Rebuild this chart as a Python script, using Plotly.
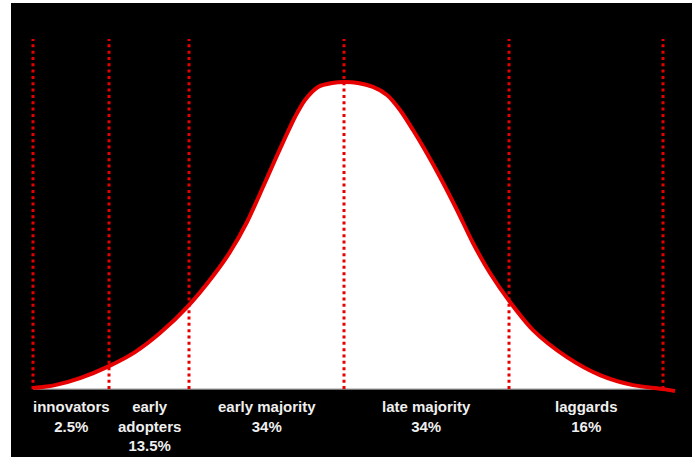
import plotly.graph_objects as go

# Adopter categories (Rogers' diffusion of innovations) and their shares
categories = ["innovators", "early<br>adopters", "early majority", "late majority", "laggards"]
shares = ["2.5%", "13.5%", "34%", "34%", "16%"]

# Category boundaries along the adoption-time axis
boundaries = [-3.11, -2.35, -1.55, 0.0, 1.65, 3.19]

# Bell curve outline (relative adoption rate, peak = 100)
curve_x = [-3.11, -2.89, -2.64, -2.35, -2.09, -1.84, -1.55, -1.31, -1.14, -0.97,
           -0.81, -0.69, -0.59, -0.49, -0.39, -0.26, -0.12, 0.01, 0.14, 0.29,
           0.43, 0.56, 0.69, 0.81, 0.96, 1.13, 1.29, 1.46, 1.66, 1.89,
           2.23, 2.56, 2.89, 3.19, 3.31]
curve_y = [0.33, 1.30, 3.58, 7.49, 12.05, 18.24, 27.36, 36.81, 44.63, 54.40,
           65.80, 74.59, 81.76, 88.60, 94.14, 98.37, 99.67, 100.0, 99.67, 98.37,
           95.77, 90.88, 84.36, 77.85, 69.06, 58.31, 47.56, 37.79, 28.34, 19.22,
           10.42, 4.56, 1.30, 0.0, -0.65]

RED = "#e60000"
line_top = 114

fig = go.Figure()

# white area under the curve
fig.add_trace(go.Scatter(
    x=curve_x, y=curve_y, mode="lines", fill="tozeroy",
    fillcolor="#ffffff",
    line=dict(color="rgba(0,0,0,0)", width=0, shape="spline", smoothing=0.8),
    hoverinfo="skip"))

# baseline
fig.add_trace(go.Scatter(
    x=[boundaries[0], boundaries[-1]], y=[0, 0], mode="lines",
    line=dict(color="#9a9a9a", width=1.2), hoverinfo="skip"))

# dotted category boundaries
for b in boundaries:
    fig.add_trace(go.Scatter(
        x=[b, b], y=[0, line_top], mode="lines",
        line=dict(color=RED, width=3, dash="3px,3.33px"), hoverinfo="skip"))

# red curve outline
fig.add_trace(go.Scatter(
    x=curve_x, y=curve_y, mode="lines",
    line=dict(color=RED, width=4, shape="spline", smoothing=0.8),
    hoverinfo="skip"))

# category labels centred between boundaries
for i, (cat, share) in enumerate(zip(categories, shares)):
    mid = (boundaries[i] + boundaries[i + 1]) / 2
    fig.add_annotation(
        x=mid, y=-2.2, xref="x", yref="y", yanchor="top",
        text=f"{cat}<br>{share}", showarrow=False,
        font=dict(family="Liberation Sans, Arial, sans-serif", size=15,
                  color="#efefef", weight="bold"),
        align="center")

fig.update_layout(
    width=698, height=457,
    margin=dict(l=11, r=6, t=3, b=0),
    paper_bgcolor="#ffffff", plot_bgcolor="#000000",
    showlegend=False,
    xaxis=dict(range=[-3.33, 3.48], visible=False, fixedrange=True),
    yaxis=dict(range=[-22.1, 125.7], visible=False, fixedrange=True),
)

fig.write_html("out.html")
